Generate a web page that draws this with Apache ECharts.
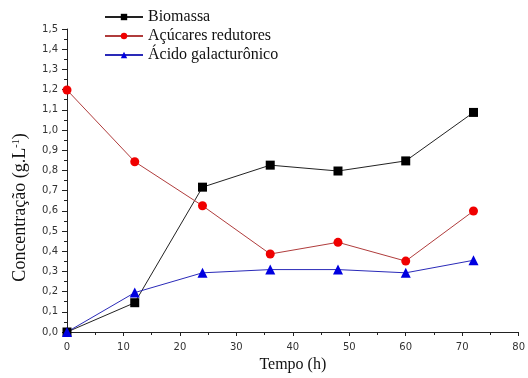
<!DOCTYPE html>
<html>
<head>
<meta charset="utf-8">
<script src="https://cdn.jsdelivr.net/npm/echarts@6/dist/echarts.min.js"></script>
<style>
  html, body { margin: 0; padding: 0; background: #fff; }
  #chart { width: 528px; height: 378px; }
</style>
</head>
<body>
<div id="chart"></div>
<script>
// tempo (h)
const tempo = [0, 12, 24, 36, 48, 60, 72];
const biomassa = [0.0, 0.145, 0.717, 0.826, 0.797, 0.847, 1.087];
const acucares = [1.198, 0.843, 0.625, 0.386, 0.444, 0.351, 0.599];
const acido = [0.0, 0.195, 0.293, 0.309, 0.309, 0.293, 0.355];

const pares = (ys) => tempo.map((t, i) => [t, ys[i]]);
const serif = 'Liberation Serif';

const myChart = echarts.init(document.getElementById('chart'));
let option = {
  animation: false,
  backgroundColor: '#fff',
  grid: { left: 67, right: 6, top: 29, bottom: 46 },
  legend: {
    orient: 'vertical',
    left: 99,
    top: 4,
    itemWidth: 38,
    itemHeight: 8,
    itemGap: 3,
    textStyle: { fontFamily: serif, fontSize: 16, color: '#111' },
    data: ['Biomassa', 'Açúcares redutores', 'Ácido galacturônico']
  },
  xAxis: {
    type: 'value',
    min: 0, max: 80, interval: 10,
    name: 'Tempo (h)',
    nameLocation: 'middle',
    nameGap: 18,
    nameTextStyle: { fontFamily: serif, fontSize: 16, color: '#111' },
    axisLine: { lineStyle: { color: '#222', width: 1 } },
    axisTick: { show: true, length: 4, lineStyle: { color: '#222' } },
    minorTick: { show: true, splitNumber: 2, length: 3, lineStyle: { color: '#222' } },
    splitLine: { show: false },
    axisLabel: { fontFamily: 'DejaVu Sans', fontSize: 10, color: '#333', margin: 10 }
  },
  yAxis: {
    type: 'value',
    min: 0, max: 1.5, interval: 0.1,
    name: '{a|Concentração (g.L}{s|-1}{a|)}',
    nameLocation: 'middle',
    nameGap: 37,
    nameTextStyle: {
      padding: [0, 54, 0, 0],
      rich: {
        a: { fontFamily: serif, fontSize: 18, color: '#111' },
        s: { fontFamily: serif, fontSize: 10, color: '#111', verticalAlign: 'top', padding: [0, 0, 9, 0] }
      }
    },
    axisLine: { show: true, lineStyle: { color: '#222', width: 1 } },
    axisTick: { show: true, length: 5, lineStyle: { color: '#222' } },
    minorTick: { show: true, splitNumber: 2, length: 3, lineStyle: { color: '#222' } },
    splitLine: { show: false },
    axisLabel: {
      fontFamily: 'DejaVu Sans', fontSize: 10, color: '#333', margin: 9,
      formatter: (v) => v.toFixed(1).replace('.', ',')
    }
  },
  series: [
    {
      name: 'Biomassa',
      type: 'line',
      data: pares(biomassa),
      symbol: 'rect',
      symbolSize: 9,
      itemStyle: { color: '#000' },
      lineStyle: { color: '#222', width: 1 }
    },
    {
      name: 'Açúcares redutores',
      type: 'line',
      data: pares(acucares),
      symbol: 'circle',
      symbolSize: 9,
      itemStyle: { color: '#f00000' },
      lineStyle: { color: '#b03c3c', width: 1 }
    },
    {
      name: 'Ácido galacturônico',
      type: 'line',
      data: pares(acido),
      symbol: 'triangle',
      symbolSize: 10,
      itemStyle: { color: '#0000e0' },
      lineStyle: { color: '#2a2ab8', width: 1 }
    }
  ]
};
option && myChart.setOption(option);
</script>
</body>
</html>
